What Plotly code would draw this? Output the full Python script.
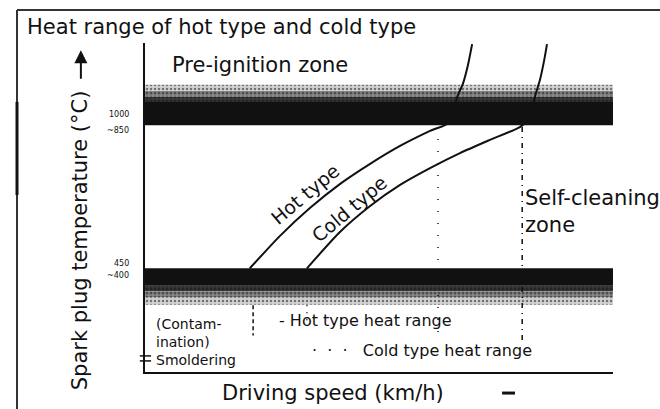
import plotly.graph_objects as go

# Relative driving speed (0-100) and spark plug temperature (deg C)
hot_speed = [22.4, 28.8, 35.3, 41.7, 48.1, 54.5, 60.9, 65.2, 66.7, 67.9, 69.0, 69.9]
hot_temp = [450, 540, 619, 686, 742, 792, 834, 859, 929, 965, 1018, 1077]

cold_speed = [34.6, 41.7, 48.1, 54.5, 60.9, 67.3, 73.7, 80.1, 82.3, 83.3, 84.4, 85.3, 85.9]
cold_temp = [450, 552, 624, 683, 730, 772, 809, 845, 870, 929, 977, 1032, 1077]

# Temperature bands (pre-ignition above, self-cleaning threshold below)
speed_span = [0, 100]
preign_solid = [850, 915]
preign_haze = [[915, 930], [930, 946], [946, 963]]
clean_solid = [401, 450]
clean_haze = [[386, 401], [368, 386], [348, 368]]
# (dot tile size, dot solidity, background tone) from densest to lightest
haze_style = [(4, 0.6, "#3a3a3a"), (4, 0.45, "#8a8a8a"), (4, 0.3, "#d2d2d2")]

# Heat-range end markers: speed, top temp, bottom temp, dash style
marker_speed = [23.1, 34.6, 62.6, 80.6]
marker_top = [347, 347, 845, 845]
marker_bottom = [262, 300, 262, 244]
marker_dash = ["4px,3px", "1px,6px", "1px,11px", "5px,5px,1px,5px"]

band_labels_hi = ["1000", "~850"]
band_labels_lo = ["450", "~400"]

FONT = "DejaVu Sans"
INK = "#111111"

fig = go.Figure()


def band(lo_hi, pattern=None):
    lo, hi = lo_hi
    xs = [speed_span[0], speed_span[1], speed_span[1], speed_span[0], speed_span[0]]
    ys = [lo, lo, hi, hi, lo]
    kw = dict(x=xs, y=ys, mode="lines", line=dict(width=0), fill="toself",
              hoverinfo="skip")
    if pattern is None:
        kw["fillcolor"] = INK
    else:
        size, solidity, tone = pattern
        kw["fillcolor"] = "rgba(0,0,0,0)"
        kw["fillpattern"] = dict(shape=".", fgcolor=INK, bgcolor=tone,
                                 size=size, solidity=solidity)
    fig.add_trace(go.Scatter(**kw))


for rng, style in zip(preign_haze, haze_style):
    band(rng, style)
band(preign_solid)
for rng, style in zip(clean_haze, haze_style):
    band(rng, style)
band(clean_solid)

for sx, top, bot, dash in zip(marker_speed, marker_top, marker_bottom, marker_dash):
    fig.add_trace(go.Scatter(x=[sx, sx], y=[top, bot], mode="lines",
                             line=dict(color=INK, width=1.5, dash=dash),
                             hoverinfo="skip"))

fig.add_trace(go.Scatter(x=hot_speed, y=hot_temp, mode="lines",
                         line=dict(color=INK, width=2, shape="spline", smoothing=0.6),
                         hoverinfo="skip"))
fig.add_trace(go.Scatter(x=cold_speed, y=cold_temp, mode="lines",
                         line=dict(color=INK, width=2, shape="spline", smoothing=0.6),
                         hoverinfo="skip"))

ann = []
big = dict(family=FONT, size=21, color=INK)
mid = dict(family=FONT, size=19, color=INK)
small = dict(family=FONT, size=16, color=INK)
note = dict(family=FONT, size=14, color=INK)
tiny = dict(family=FONT, size=8, color=INK)

ann.append(dict(x=5.3, y=1018, xref="x", yref="y", text="Pre-ignition zone",
                showarrow=False, xanchor="left", yanchor="middle", font=big))
ann.append(dict(x=80.8, y=610, xref="x", yref="y", text="Self-cleaning<br>zone",
                showarrow=False, xanchor="left", yanchor="middle", align="left",
                font=big))
ann.append(dict(x=34.2, y=658, xref="x", yref="y", text="Hot type", textangle=-40,
                showarrow=False, font=mid))
ann.append(dict(x=43.6, y=616, xref="x", yref="y", text="Cold type", textangle=-40,
                showarrow=False, font=mid))
for txt, yy in zip(["(Contam-", "ination)", "Smoldering"], [294, 244, 194]):
    ann.append(dict(x=2.1, y=yy, xref="x", yref="y", text=txt, showarrow=False,
                    xanchor="left", yanchor="middle", font=note, borderpad=0))
ann.append(dict(x=28.2, y=305, xref="x", yref="y", text="- Hot type heat range",
                showarrow=False, xanchor="left", yanchor="middle", font=small))
ann.append(dict(x=35.3, y=219, xref="x", yref="y",
                text="·  ·  ·   Cold type heat range",
                showarrow=False, xanchor="left", yanchor="middle", font=small))

# small band values beside the axis
for txt, yy in zip(band_labels_hi, [880, 836]):
    ann.append(dict(x=-0.03, y=yy, xref="paper", yref="y", text=txt, showarrow=False,
                    xanchor="right", yanchor="middle", font=tiny))
for txt, yy in zip(band_labels_lo, [463, 430]):
    ann.append(dict(x=-0.03, y=yy, xref="paper", yref="y", text=txt, showarrow=False,
                    xanchor="right", yanchor="middle", font=tiny))

# axis titles
ann.append(dict(x=-0.137, y=0.40, xref="paper", yref="paper",
                text="Spark plug temperature (°C)", textangle=-90, showarrow=False,
                xanchor="center", yanchor="middle", font=big))
ann.append(dict(x=-0.137, y=0.978, xref="paper", yref="paper", text="",
                showarrow=True, arrowhead=2, arrowsize=1.3, arrowwidth=2,
                arrowcolor=INK, ax=0, ay=30))
ann.append(dict(x=0.4017, y=-0.064, xref="paper", yref="paper",
                text="Driving speed (km/h)", showarrow=False,
                xanchor="center", yanchor="middle", font=big))

shapes = [
    # outer frame
    dict(type="line", xref="paper", yref="paper", x0=-0.2735, x1=1.2, y0=1.1003, y1=1.1003,
         line=dict(color="#333", width=2)),
    dict(type="line", xref="paper", yref="paper", x0=-0.2735, x1=-0.2735, y0=1.1003, y1=-0.15,
         line=dict(color="#333", width=2)),
    dict(type="line", xref="paper", yref="paper", x0=-0.2735, x1=-0.2735, y0=0.821, y1=0.538,
         line=dict(color=INK, width=3)),
    # arrow stub after the speed label
    dict(type="line", xref="paper", yref="paper", x0=0.763, x1=0.7906, y0=-0.064, y1=-0.064,
         line=dict(color=INK, width=3)),
    # axis break marks
    dict(type="line", xref="paper", yref="y", x0=-0.011, x1=0.013, y0=205, y1=205,
         line=dict(color=INK, width=1.5)),
    dict(type="line", xref="paper", yref="y", x0=-0.011, x1=0.013, y0=191, y1=191,
         line=dict(color=INK, width=1.5)),
]

axis = dict(showline=True, linecolor=INK, linewidth=1.5, showgrid=False, zeroline=False,
            showticklabels=False, ticks="", fixedrange=True)

fig.update_layout(
    width=660, height=409,
    margin=dict(l=145, r=47, t=43, b=37),
    paper_bgcolor="white", plot_bgcolor="white",
    showlegend=False,
    font=dict(family=FONT, color=INK),
    title=dict(text="Heat range of hot type and cold type", x=0.041, xanchor="left",
               y=0.936, yanchor="middle", font=dict(family=FONT, size=21, color=INK)),
    xaxis=dict(range=[0, 100], **axis),
    yaxis=dict(range=[160, 1080], **axis),
    annotations=ann,
    shapes=shapes,
)

fig.write_html("out.html")
